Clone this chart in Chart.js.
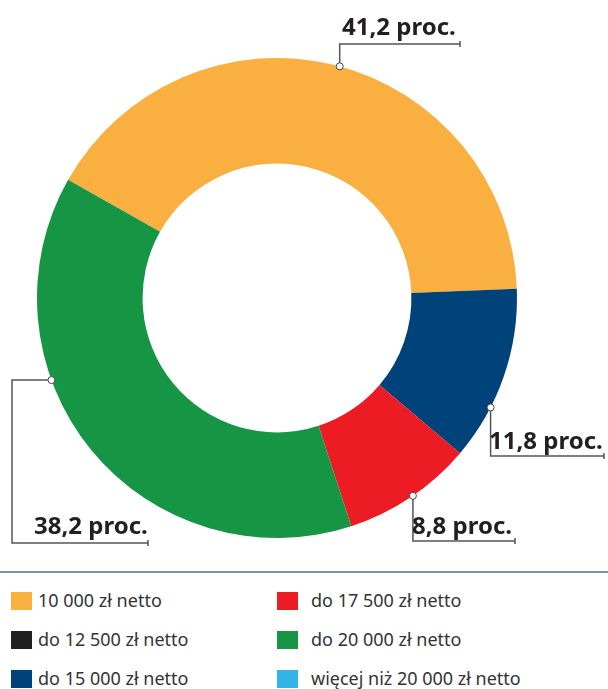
<!DOCTYPE html>
<html lang="pl">
<head>
<meta charset="UTF-8">
<title>Wynagrodzenia</title>
<script src="https://cdn.jsdelivr.net/npm/chart.js"></script>
<style>
  body { margin: 0; background: #fff; font-family: "Noto Sans", "Open Sans", sans-serif; }
  #wrap { position: relative; width: 608px; height: 689px; }
  #sep { position: absolute; left: 0; top: 571px; width: 608px; height: 2px; background: #7895b2; }
  .item { position: absolute; font-size: 18px; color: #333; line-height: 20px; white-space: nowrap; }
  .sw { display: inline-block; width: 21px; height: 18px; vertical-align: -3px; margin-right: 6px; }
</style>
</head>
<body>
<div id="wrap">
  <div style="position:absolute;left:0;top:0;width:608px;height:570px;">
    <canvas id="pie"></canvas>
  </div>
  <div id="sep"></div>
  <div id="legend"></div>
</div>
<script>
const labels = ['10 000 zł netto', 'do 15 000 zł netto', 'do 17 500 zł netto', 'do 20 000 zł netto', 'do 12 500 zł netto', 'więcej niż 20 000 zł netto'];
const values = [41.2, 11.8, 8.8, 38.2, 0, 0];
const colors = ['#f9b041', '#00427a', '#ed1c24', '#169545', '#231f20', '#33b5e9'];
// legend order as in the picture (two columns)
const legendOrder = [0, 4, 1, 2, 3, 5];

// where the leader line touches each slice (fraction of the arc) and how it runs to its text
const callouts = [
  { i: 0, frac: 0.51, path: a => [[a.x, 44], [460, 44]], tx: 342, ty: 35 },
  { i: 1, frac: 0.69, path: a => [[a.x, 456], [604, 456]], tx: 489, ty: 449 },
  { i: 2, frac: 0.48, path: a => [[a.x, 541], [515, 541]], tx: 412, ty: 534 },
  { i: 3, frac: 0.64, path: a => [[12, a.y], [12, 543], [148, 543]], tx: 34, ty: 534 }
];

const calloutPlugin = {
  id: 'callouts',
  afterDraw(chart) {
    const ctx = chart.ctx;
    const meta = chart.getDatasetMeta(0);
    ctx.save();
    callouts.forEach(c => {
      const arc = meta.data[c.i];
      const ang = arc.startAngle + (arc.endAngle - arc.startAngle) * c.frac;
      const a = { x: arc.x + Math.cos(ang) * arc.outerRadius, y: arc.y + Math.sin(ang) * arc.outerRadius };
      const pts = c.path(a);
      ctx.strokeStyle = '#555';
      ctx.lineWidth = 1.5;
      ctx.beginPath();
      ctx.moveTo(a.x, a.y);
      pts.forEach(p => ctx.lineTo(p[0], p[1]));
      ctx.stroke();
      const end = pts[pts.length - 1];
      ctx.beginPath();
      ctx.moveTo(end[0], end[1] - 3);
      ctx.lineTo(end[0], end[1] + 3);
      ctx.stroke();
      ctx.beginPath();
      ctx.arc(a.x, a.y, 3.5, 0, Math.PI * 2);
      ctx.fillStyle = '#fff';
      ctx.fill();
      ctx.lineWidth = 1;
      ctx.strokeStyle = '#444';
      ctx.stroke();
      ctx.fillStyle = '#231f20';
      ctx.font = 'bold 24px "Noto Sans", sans-serif';
      ctx.textBaseline = 'alphabetic';
      ctx.textAlign = 'left';
      ctx.fillText(values[c.i].toFixed(1).replace('.', ',') + ' proc.', c.tx, c.ty);
    });
    ctx.restore();
  }
};

new Chart(document.getElementById('pie'), {
  type: 'doughnut',
  data: {
    labels: labels,
    datasets: [{ data: values, backgroundColor: colors, borderWidth: 0 }]
  },
  options: {
    responsive: true,
    maintainAspectRatio: false,
    animation: false,
    rotation: -60.5,
    cutout: '56%',
    layout: { padding: { left: 37, right: 91, top: 58, bottom: 32 } },
    plugins: { legend: { display: false }, tooltip: { enabled: false } }
  },
  plugins: [calloutPlugin]
});

const legend = document.getElementById('legend');
legendOrder.forEach((idx, k) => {
  const col = Math.floor(k / 3), row = k % 3;
  const d = document.createElement('div');
  d.className = 'item';
  d.style.left = (col ? 277 : 11) + 'px';
  d.style.top = (590 + row * 39) + 'px';
  d.innerHTML = '<span class="sw" style="background:' + colors[idx] + ';margin-right:' + (col ? 13 : 6) + 'px"></span>' + labels[idx];
  legend.appendChild(d);
});
</script>
</body>
</html>
